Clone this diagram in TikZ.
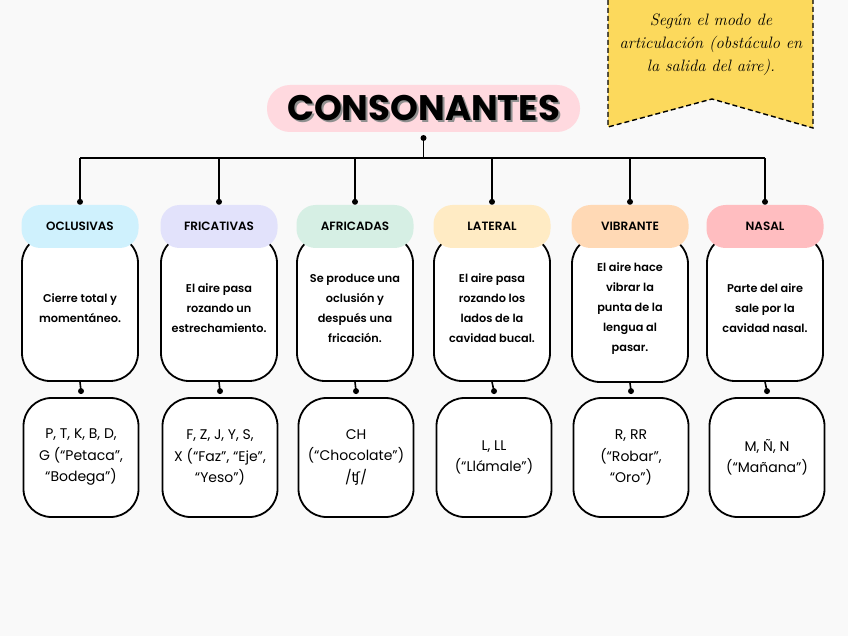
\documentclass[tikz,border=0pt]{standalone}
\usepackage{fontspec}
\newfontfamily\popfont{Poppins}
\newfontfamily\popsemi{Poppins SemiBold}
\newfontfamily\ipafont{DejaVu Sans}
\usetikzlibrary{positioning}

\definecolor{paper}{HTML}{F9F9F9}
\definecolor{titlepink}{HTML}{FFD9DF}
\definecolor{shadowgray}{HTML}{8F8F8F}
\definecolor{oclucol}{HTML}{CFF1FD}
\definecolor{fricacol}{HTML}{E2E2FB}
\definecolor{africol}{HTML}{D6EFE4}
\definecolor{latcol}{HTML}{FFEBC4}
\definecolor{vibcol}{HTML}{FFD9B5}
\definecolor{nascol}{HTML}{FFBDC0}
\definecolor{bannercol}{HTML}{FCD95C}

\newcommand{\shadowed}[1]{\rlap{\hspace{2pt}\raisebox{-2pt}{\textcolor{shadowgray}{#1}}}#1}

\tikzset{
  titlebox/.style={fill=titlepink, rounded corners=23pt, minimum width=313pt, minimum height=47pt,
    font=\popfont\bfseries\fontsize{35.5}{36}\selectfont},
  headbox/.style={rounded corners=19pt, minimum width=117pt, minimum height=43pt, inner sep=0pt,
    font=\popsemi\fontsize{12}{13}\selectfont},
  descbox/.style={draw, line width=1.8pt, fill=white, rounded corners=28pt, minimum width=116pt,
    minimum height=146pt, inner sep=0pt, align=center, font=\popsemi\fontsize{11.3}{20}\selectfont},
  examplebox/.style={draw, line width=1.8pt, fill=white, rounded corners=28pt, minimum width=115pt,
    minimum height=119pt, inner sep=0pt, align=center, font=\popfont\fontsize{14}{21.5}\selectfont},
  joint/.style={circle, fill=black, inner sep=0pt, minimum size=6pt},
  link/.style={line width=1.6pt},
  bannertext/.style={align=center, font=\itshape\fontsize{16.5}{23}\selectfont}
}

\begin{document}
\begin{tikzpicture}[x=1pt, y=-1pt]
  \useasboundingbox (0,0) rectangle (848,636);
  \fill[paper] (0,0) rectangle (848,636);

  % banderola
  \fill[bannercol] (608,0) -- (608,127) -- (712,99) -- (813,128) -- (813,0) -- cycle;
  \draw[dashed, line width=1.4pt, dash pattern=on 5pt off 3pt] (608,0) -- (608,127) -- (712,99) -- (813,128) -- (813,0);
  \node[bannertext] (note) at (711,45) {Según el modo de\\articulación (obstáculo en\\la salida del aire).};

  % titulo
  \node[titlebox] (title) at (423.5,108.5) {\shadowed{CONSONANTES}};

  % descripciones
  \node[descbox] (d1) at (80,308) {Cierre total y\\momentáneo.};
  \node[descbox] (d2) at (219,308) {El aire pasa\\rozando un\\estrechamiento.};
  \node[descbox] (d3) at (355,308) {Se produce una\\oclusión y\\después una\\fricación.};
  \node[descbox] (d4) at (492,308) {El aire pasa\\rozando los\\lados de la\\cavidad bucal.};
  \node[descbox] (d5) at (630,309) {El aire hace\\vibrar la\\punta de la\\lengua al\\pasar.};
  \node[descbox] (d6) at (765,308) {Parte del aire\\sale por la\\cavidad nasal.};

  % cabeceras
  \node[headbox, fill=oclucol] (h1) at (80,226.5) {OCLUSIVAS};
  \node[headbox, fill=fricacol] (h2) at (219,226.5) {FRICATIVAS};
  \node[headbox, fill=africol] (h3) at (355,226.5) {AFRICADAS};
  \node[headbox, fill=latcol] (h4) at (492,226.5) {LATERAL};
  \node[headbox, fill=vibcol] (h5) at (630,226.5) {VIBRANTE};
  \node[headbox, fill=nascol] (h6) at (765,226.5) {NASAL};

  % ejemplos
  \node[examplebox] (e1) at (81,457.5) {P, T, K, B, D,\\G (“Petaca”,\\“Bodega”)};
  \node[examplebox] (e2) at (220,457.5) {F, Z, J, Y, S,\\X (“Faz”, “Eje”,\\“Yeso”)};
  \node[examplebox] (e3) at (356,457.5) {CH\\(“Chocolate”)\\/{\ipafont ʧ}/};
  \node[examplebox] (e4) at (494,457.5) {L, LL\\(“Llámale”)};
  \node[examplebox] (e5) at (631,457.5) {R, RR\\(“Robar”,\\“Oro”)};
  \node[examplebox] (e6) at (767,457.5) {M, Ñ, N\\(“Mañana”)};

  % conectores
  \node[joint] (tdot) at (423.5,138) {};
  \coordinate (bus) at (423.5,158);
  \draw[link] (tdot) -- (bus);
  \draw[link] (h1 |- bus) -- (h6 |- bus);
  \foreach \i in {1,...,6} {
    \draw[link] (h\i |- bus) -- ([yshift=3pt]h\i.north) node[joint] (hd\i) {};
    \draw[link] (d\i.south) -- ([yshift=6pt]e\i.north) node[joint] (ed\i) {};
  }
\end{tikzpicture}
\end{document}
